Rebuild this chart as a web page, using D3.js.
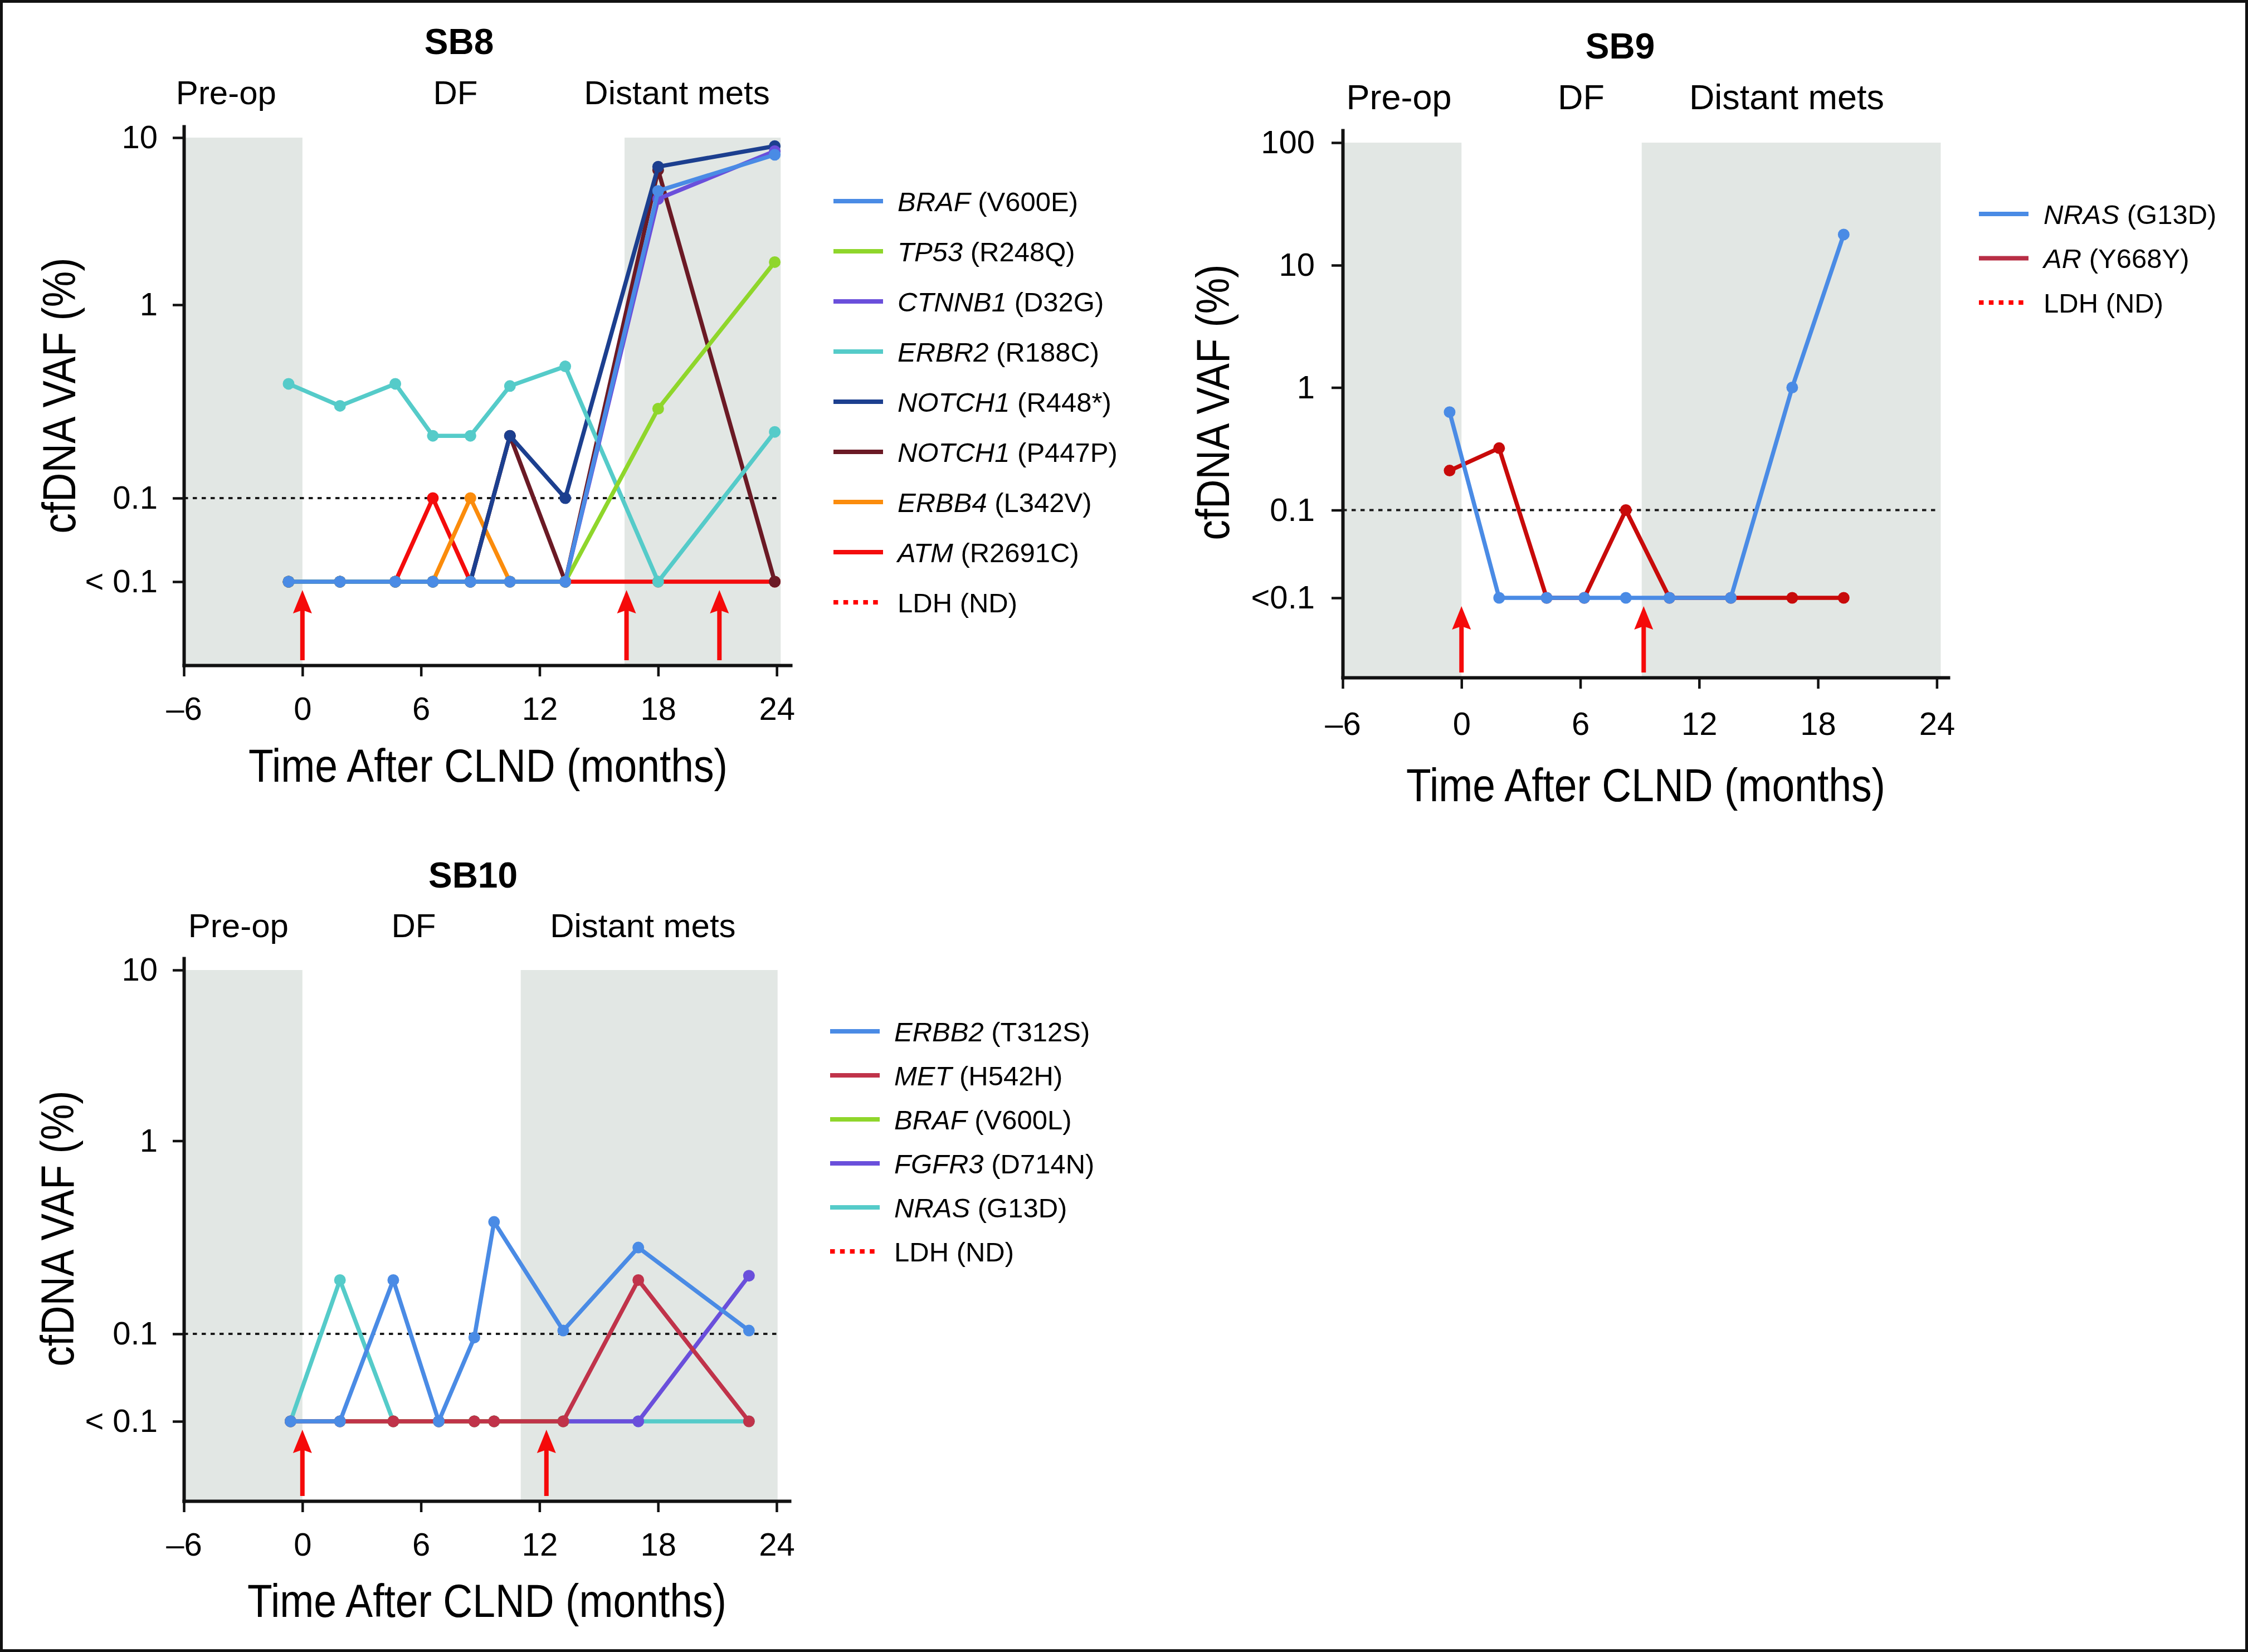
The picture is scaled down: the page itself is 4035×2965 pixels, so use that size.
<!DOCTYPE html>
<html>
<head>
<meta charset="utf-8">
<script src="https://cdn.jsdelivr.net/npm/d3@7"></script>
<style>
  body { margin: 0; background: #fff; }
  svg { display: block; font-family: 'Liberation Sans', Arial, Helvetica, sans-serif; }
</style>
</head>
<body>
<svg id="fig" width="4035" height="2965"></svg>
<script>
// value used for the "< 0.1" row (not detected)
const ND = 0.03;

const phaseNames = ['Pre-op', 'DF', 'Distant mets'];
const xTickValues = [-6, 0, 6, 12, 18, 24];

// SB8
const sb8Months = [-0.7, 1.9, 4.7, 6.6, 8.5, 10.5, 13.3, 18.0, 23.9];
const sb8Genes = ['BRAF', 'TP53', 'CTNNB1', 'ERBR2', 'NOTCH1', 'NOTCH1', 'ERBB4', 'ATM'];
const sb8Variants = ['(V600E)', '(R248Q)', '(D32G)', '(R188C)', '(R448*)', '(P447P)', '(L342V)', '(R2691C)'];
const sb8Colors = ['#4a8be5', '#8fd62b', '#6a4fdb', '#55cbc9', '#1c3f8f', '#6b1a25', '#fb8c0c', '#f40c0c'];
const sb8Values = [
  [ND, ND, ND, ND, ND, ND, ND, 4.8, 7.9],
  [ND, ND, ND, ND, ND, ND, ND, 0.29, 1.8],
  [ND, ND, ND, ND, ND, ND, ND, 4.3, 8.3],
  [0.39, 0.30, 0.39, 0.21, 0.21, 0.38, 0.48, ND, 0.22],
  [ND, ND, ND, ND, ND, 0.21, 0.1, 6.7, 8.9],
  [ND, ND, ND, ND, ND, 0.21, ND, 6.4, ND],
  [ND, ND, ND, ND, 0.1, ND, ND, null, null],
  [ND, ND, ND, 0.1, ND, ND, ND, ND, ND],
];
const sb8Shade = [[-6, 0], [16.3, 24.2]];
const sb8Arrows = [0, 16.4, 21.1];
const sb8YTicks = [ND, 0.1, 1, 10];

// SB9
const sb9Months = [-0.6, 1.9, 4.3, 6.2, 8.3, 10.5, 13.6, 16.7, 19.3];
const sb9Genes = ['NRAS', 'AR'];
const sb9Variants = ['(G13D)', '(Y668Y)'];
const sb9Colors = ['#4a8be5', '#c80a0a'];
const sb9LegendColors = ['#4a8be5', '#b82e45'];
const sb9Values = [
  [0.63, ND, ND, ND, ND, ND, ND, 1.0, 17.8],
  [0.21, 0.32, ND, ND, 0.1, ND, ND, ND, ND],
];
const sb9Shade = [[-6, 0], [9.1, 24.2]];
const sb9Arrows = [0, 9.2];
const sb9YTicks = [ND, 0.1, 1, 10, 100];

// SB10
const sb10Months = [-0.6, 1.9, 4.6, 6.9, 8.7, 9.7, 13.2, 17.0, 22.6];
const sb10Genes = ['ERBB2', 'MET', 'BRAF', 'FGFR3', 'NRAS'];
const sb10Variants = ['(T312S)', '(H542H)', '(V600L)', '(D714N)', '(G13D)'];
const sb10Colors = ['#4a8be5', '#c0334a', '#8fd62b', '#6a4fdb', '#55cbc9'];
const sb10Values = [
  [ND, ND, 0.19, ND, 0.095, 0.38, 0.104, 0.28, 0.104],
  [ND, ND, ND, ND, ND, ND, ND, 0.19, ND],
  [ND, ND, ND, ND, ND, ND, ND, null, null],
  [ND, ND, ND, ND, ND, ND, ND, ND, 0.2],
  [ND, 0.19, ND, ND, ND, ND, ND, ND, ND],
];
const sb10Shade = [[-6, 0], [11.05, 24.05]];
const sb10Arrows = [0, 12.35];
const sb10YTicks = [ND, 0.1, 1, 10];

const panels = [
  {
    name: 'SB8', months: sb8Months, genes: sb8Genes, variants: sb8Variants,
    colors: sb8Colors, legendColors: sb8Colors, values: sb8Values,
    shade: sb8Shade, arrows: sb8Arrows, yTicks: sb8YTicks, ndLabel: '< 0.1',
    xMax: 24.7, left: 330, right: 1419,
    yDomain: [0.01, ND, 0.1, 1, 10, 12], yRange: [1194, 1044, 894, 547, 247, 227],
    title: [824, 97], phaseY: 187, phaseSize: 60, phaseAt: [-3.86, 7.74, 18.95],
    yTitle: [105, 710], xTitle: [876, 1403], xPad: 37, yPad: 27,
    legend: { x1: 1496, x2: 1585, tx: 1611, y0: 361, dy: 90 },
  },
  {
    name: 'SB9', months: sb9Months, genes: sb9Genes, variants: sb9Variants,
    colors: sb9Colors, legendColors: sb9LegendColors, values: sb9Values,
    shade: sb9Shade, arrows: sb9Arrows, yTicks: sb9YTicks, ndLabel: '<0.1',
    xMax: 24.58, left: 2410, right: 3497,
    yDomain: [0.01, ND, 0.1, 1, 10, 100, 120], yRange: [1216, 1073, 915.5, 695.5, 476, 256, 234],
    title: [2908, 105], phaseY: 196, phaseSize: 63, phaseAt: [-3.16, 6.04, 16.42],
    yTitle: [2176, 722], xTitle: [2954, 1438], xPad: 42, yPad: 30,
    legend: { x1: 3552, x2: 3641, tx: 3668, y0: 384, dy: 79.5 },
  },
  {
    name: 'SB10', months: sb10Months, genes: sb10Genes, variants: sb10Variants,
    colors: sb10Colors, legendColors: sb10Colors, values: sb10Values,
    shade: sb10Shade, arrows: sb10Arrows, yTicks: sb10YTicks, ndLabel: '< 0.1',
    xMax: 24.65, left: 330, right: 1417,
    yDomain: [0.01, ND, 0.1, 1, 10, 12], yRange: [2694, 2551, 2394, 2047.5, 1741, 1720],
    title: [849, 1593], phaseY: 1682, phaseSize: 60, phaseAt: [-3.24, 5.63, 17.23],
    yTitle: [102, 2205], xTitle: [874, 2902], xPad: 37, yPad: 27,
    legend: { x1: 1490, x2: 1579, tx: 1605, y0: 1851, dy: 79 },
  },
];

const svg = d3.select('#fig');
svg.append('rect').attr('x', 2.5).attr('y', 2.5).attr('width', 4030).attr('height', 2960)
  .attr('fill', '#fff').attr('stroke', '#111').attr('stroke-width', 5);

panels.forEach(drawPanel);

function drawPanel(p) {
  const g = svg.append('g').attr('class', 'panel');
  const x = d3.scaleLinear().domain([-6, p.xMax]).range([p.left, p.right]);
  const y = d3.scaleLog().domain(p.yDomain).range(p.yRange);
  const axisY = p.yRange[0];
  const topTick = d3.max(p.yTicks);

  // shaded phases
  g.append('g').selectAll('rect').data(p.shade).join('rect')
    .attr('x', (d) => x(d[0]))
    .attr('width', (d) => x(d[1]) - x(d[0]))
    .attr('y', y(topTick))
    .attr('height', axisY - y(topTick))
    .attr('fill', '#e2e7e4');

  // 0.1 threshold
  g.append('line')
    .attr('x1', x(-6)).attr('x2', x(24))
    .attr('y1', y(0.1)).attr('y2', y(0.1))
    .attr('stroke', '#1a1a1a').attr('stroke-width', 4)
    .attr('stroke-dasharray', '7.5 8.5');

  // series, first legend entry on top
  const line = d3.line()
    .defined((d) => d.v != null)
    .x((d) => x(d.t))
    .y((d) => y(d.v));
  const order = d3.range(p.values.length).reverse();
  order.forEach((i) => {
    const pts = p.months.map((t, j) => ({ t, v: p.values[i][j] }));
    const sg = g.append('g');
    sg.append('path').datum(pts)
      .attr('d', line)
      .attr('fill', 'none')
      .attr('stroke', p.colors[i])
      .attr('stroke-width', 7.5)
      .attr('stroke-linejoin', 'round');
    sg.selectAll('circle').data(pts.filter((d) => d.v != null)).join('circle')
      .attr('cx', (d) => x(d.t))
      .attr('cy', (d) => y(d.v))
      .attr('r', 10.5)
      .attr('fill', p.colors[i]);
  });

  // red arrows
  const tipY = y(ND) + 15;
  const baseY = axisY - 9;
  p.arrows.forEach((m) => {
    const ax = x(m);
    g.append('line')
      .attr('x1', ax).attr('x2', ax)
      .attr('y1', baseY).attr('y2', tipY + 36)
      .attr('stroke', '#f50a0a').attr('stroke-width', 8);
    g.append('path')
      .attr('d', `M${ax},${tipY}L${ax + 17},${tipY + 42}L${ax},${tipY + 36}L${ax - 17},${tipY + 42}Z`)
      .attr('fill', '#f50a0a');
  });

  // axes
  const xAxis = g.append('g')
    .attr('transform', `translate(0,${axisY})`)
    .call(d3.axisBottom(x).tickValues(xTickValues)
      .tickSize(20).tickSizeOuter(0).tickPadding(p.xPad)
      .tickFormat((d) => (d < 0 ? `\u2013${-d}` : `${d}`)));
  const yAxis = g.append('g')
    .attr('transform', `translate(${p.left},0)`)
    .call(d3.axisLeft(y).tickValues(p.yTicks)
      .tickSize(20).tickSizeOuter(0).tickPadding(p.yPad)
      .tickFormat((d) => (d === ND ? p.ndLabel : d3.format('~g')(d))));
  [xAxis, yAxis].forEach((a) => {
    a.attr('font-family', null).attr('font-size', 58);
    a.select('.domain').attr('stroke', '#111').attr('stroke-width', 6).attr('stroke-linecap', 'square');
    a.selectAll('.tick line').attr('stroke', '#111').attr('stroke-width', 4.5);
    a.selectAll('.tick text').attr('fill', '#000');
  });

  // titles
  g.append('text')
    .attr('x', p.title[0]).attr('y', p.title[1])
    .attr('text-anchor', 'middle').attr('font-weight', 'bold').attr('font-size', 64)
    .text(p.name);
  g.append('g').selectAll('text').data(phaseNames).join('text')
    .attr('x', (d, i) => x(p.phaseAt[i]))
    .attr('y', p.phaseY)
    .attr('text-anchor', 'middle').attr('font-size', p.phaseSize)
    .text((d) => d);
  g.append('text')
    .attr('transform', `translate(${p.yTitle[0]},${p.yTitle[1]}) rotate(-90)`)
    .attr('text-anchor', 'middle').attr('dy', '0.36em').attr('font-size', 84)
    .attr('textLength', 495).attr('lengthAdjust', 'spacingAndGlyphs')
    .text('cfDNA VAF (%)');
  g.append('text')
    .attr('x', p.xTitle[0]).attr('y', p.xTitle[1])
    .attr('text-anchor', 'middle').attr('font-size', 84)
    .attr('textLength', 860).attr('lengthAdjust', 'spacingAndGlyphs')
    .text('Time After CLND (months)');

  // legend
  const items = p.genes.map((gene, i) => ({ gene, variant: p.variants[i], color: p.legendColors[i], dash: null }));
  items.push({ gene: null, variant: 'LDH (ND)', color: '#f00', dash: '8.5 9.3' });
  const L = p.legend;
  const row = g.append('g').selectAll('g').data(items).join('g')
    .attr('transform', (d, i) => `translate(0,${L.y0 + i * L.dy})`);
  row.append('line')
    .attr('x1', L.x1).attr('x2', L.x2)
    .attr('stroke', (d) => d.color).attr('stroke-width', 8)
    .attr('stroke-dasharray', (d) => d.dash);
  const t = row.append('text').attr('x', L.tx).attr('dy', '0.36em').attr('font-size', 49);
  t.filter((d) => d.gene).append('tspan').attr('font-style', 'italic').text((d) => d.gene);
  t.append('tspan').text((d) => (d.gene ? ` ${d.variant}` : d.variant));
}
</script>
</body>
</html>
